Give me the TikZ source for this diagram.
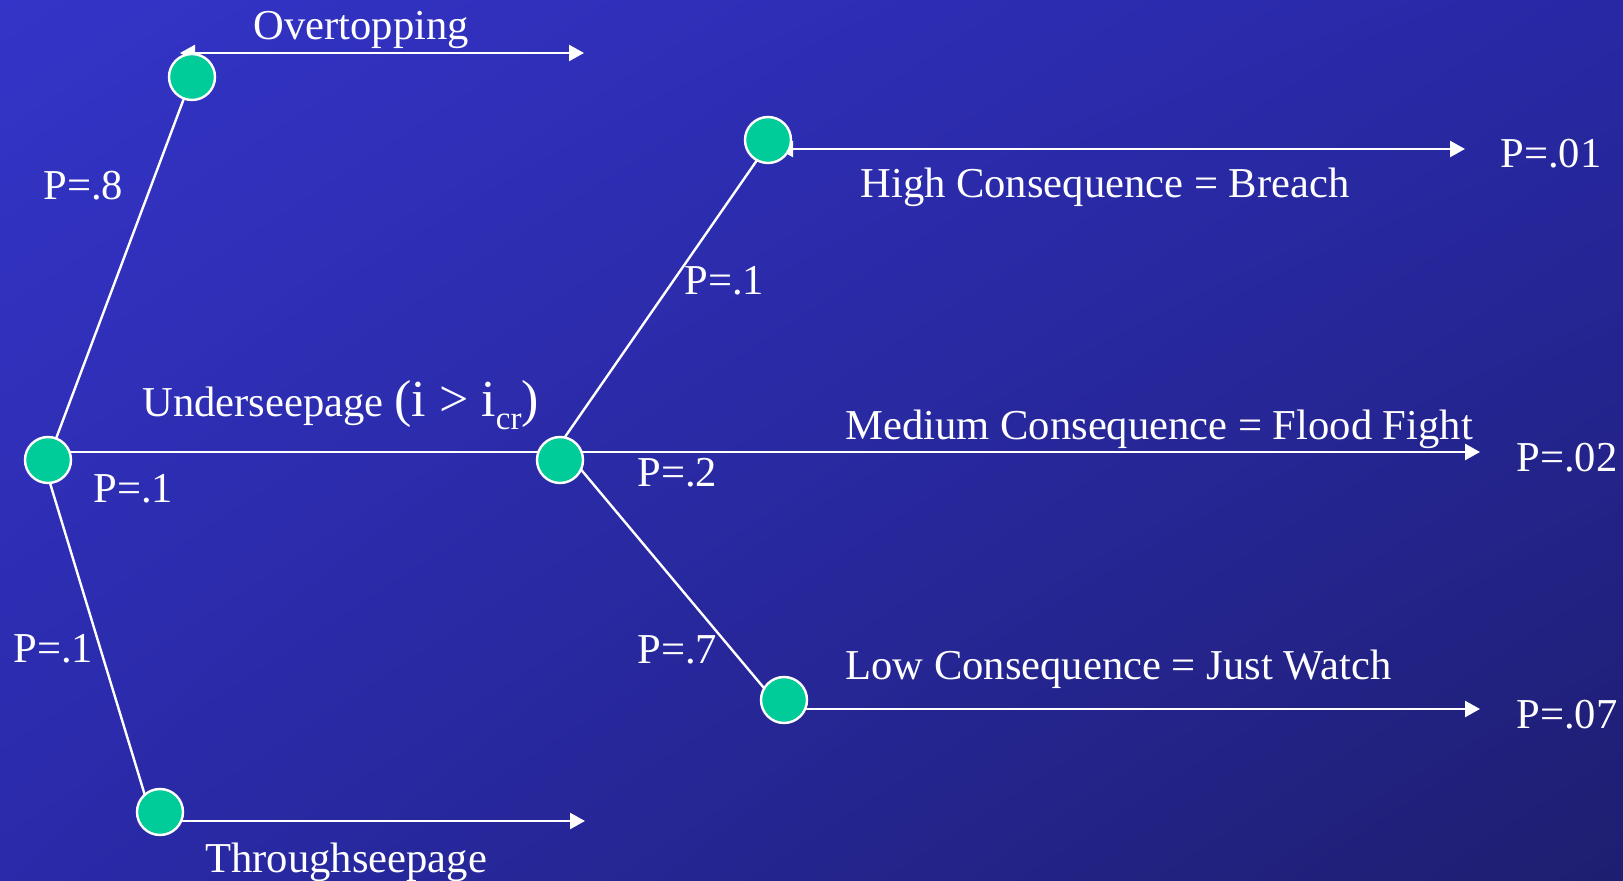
\documentclass[tikz,border=0pt]{standalone}
\usepackage{fontspec}
\setmainfont{Liberation Serif}
\usetikzlibrary{arrows.meta,calc,shadings}
\pgfdeclarelayer{bgfill}
\pgfdeclarelayer{lines}
\pgfsetlayers{bgfill,lines,main}
\definecolor{bgul}{RGB}{52,52,200}
\definecolor{bgur}{RGB}{40,40,165}
\definecolor{bgll}{RGB}{42,42,170}
\definecolor{bglr}{RGB}{30,30,112}
\definecolor{evgreen}{RGB}{0,204,153}
\begin{document}
\begin{tikzpicture}[x=0.5pt,y=-0.5pt,
  evt/.style={circle, fill=evgreen, draw=white, line width=1.2pt, minimum size=23pt, inner sep=0pt},
  lbl/.style={text=white, font=\fontsize{21.3}{25}\selectfont, inner sep=0pt, anchor=base west},
  conn/.style={white, line width=1.2pt},
  arr/.style={conn, -{Triangle[length=7.5pt,width=8pt]}},
  darr/.style={conn, {Triangle[length=7.5pt,width=8pt]}-{Triangle[length=7.5pt,width=8pt]}}]
\begin{pgfonlayer}{bgfill}
\shade[upper left=bgul, upper right=bgur, lower left=bgll, lower right=bglr] (0,0) rectangle (1623,881);
\end{pgfonlayer}
\useasboundingbox (0,0) rectangle (1623,881);

\node[evt] (A) at (48,460) {};
\node[evt] (B) at (192,77) {};
\node[evt] (C) at (160,812) {};
\node[evt] (D) at (560,460) {};
\node[evt] (F) at (768,140) {};
\node[evt] (E) at (784,700) {};
\coordinate (otL) at (180,53);
\coordinate (otR) at (584,53);
\coordinate (thR) at (585,821);
\coordinate (hiL) at (778,149);
\coordinate (hiR) at (1465,149);
\coordinate (meR) at (1480,452);
\coordinate (loR) at (1480,709);

\begin{pgfonlayer}{lines}
\draw[conn] (A.center) -- (B.center);
\draw[conn] ([xshift=-2.5pt]A.center) -- ([xshift=-5pt]C.center);
\draw[conn] ([yshift=4pt]A.center) -- ([yshift=4pt]D.center);
\draw[conn] ([xshift=-5.5pt]D.center) -- ([xshift=1.5pt]F.center);
\draw[conn] ([xshift=6.5pt]D.center) -- ([xshift=-5pt]E.center);
\draw[darr] (otL) -- (otR);
\draw[darr] (hiL) -- (hiR);
\draw[arr] ([yshift=4pt]D.center) -- (meR);
\draw[arr] ([yshift=-4.5pt]E.center) -- (loR);
\draw[arr] ([yshift=-4.5pt]C.center) -- (thR);
\end{pgfonlayer}

\node[lbl] (tOver) at (253,40) {Overtopping};
\node[lbl] (tP8) at (43,200) {P=.8};
\node[lbl] (tUnder) at (142,417) {Underseepage {\fontsize{26}{30}\selectfont (i > i}\raisebox{-6.5pt}{\fontsize{16.5}{17}\selectfont cr}{\fontsize{26}{30}\selectfont )}};
\node[lbl] (tP1a) at (93,503) {P=.1};
\node[lbl] (tP1b) at (13,663) {P=.1};
\node[lbl] (tThrough) at (205,872) {Throughseepage};
\node[lbl] (tP1c) at (684,295) {P=.1};
\node[lbl] (tP2) at (637,487) {P=.2};
\node[lbl] (tP7) at (637,664) {P=.7};
\node[lbl] (tHigh) at (860,198) {High Consequence = Breach};
\node[lbl] (tMed) at (845,440) {Medium Consequence = Flood Fight};
\node[lbl] (tLow) at (845,680) {Low Consequence = Just Watch};
\node[lbl] (tP01) at (1500,168) {P=.01};
\node[lbl] (tP02) at (1516,472) {P=.02};
\node[lbl] (tP07) at (1516,729) {P=.07};
\end{tikzpicture}
\end{document}
